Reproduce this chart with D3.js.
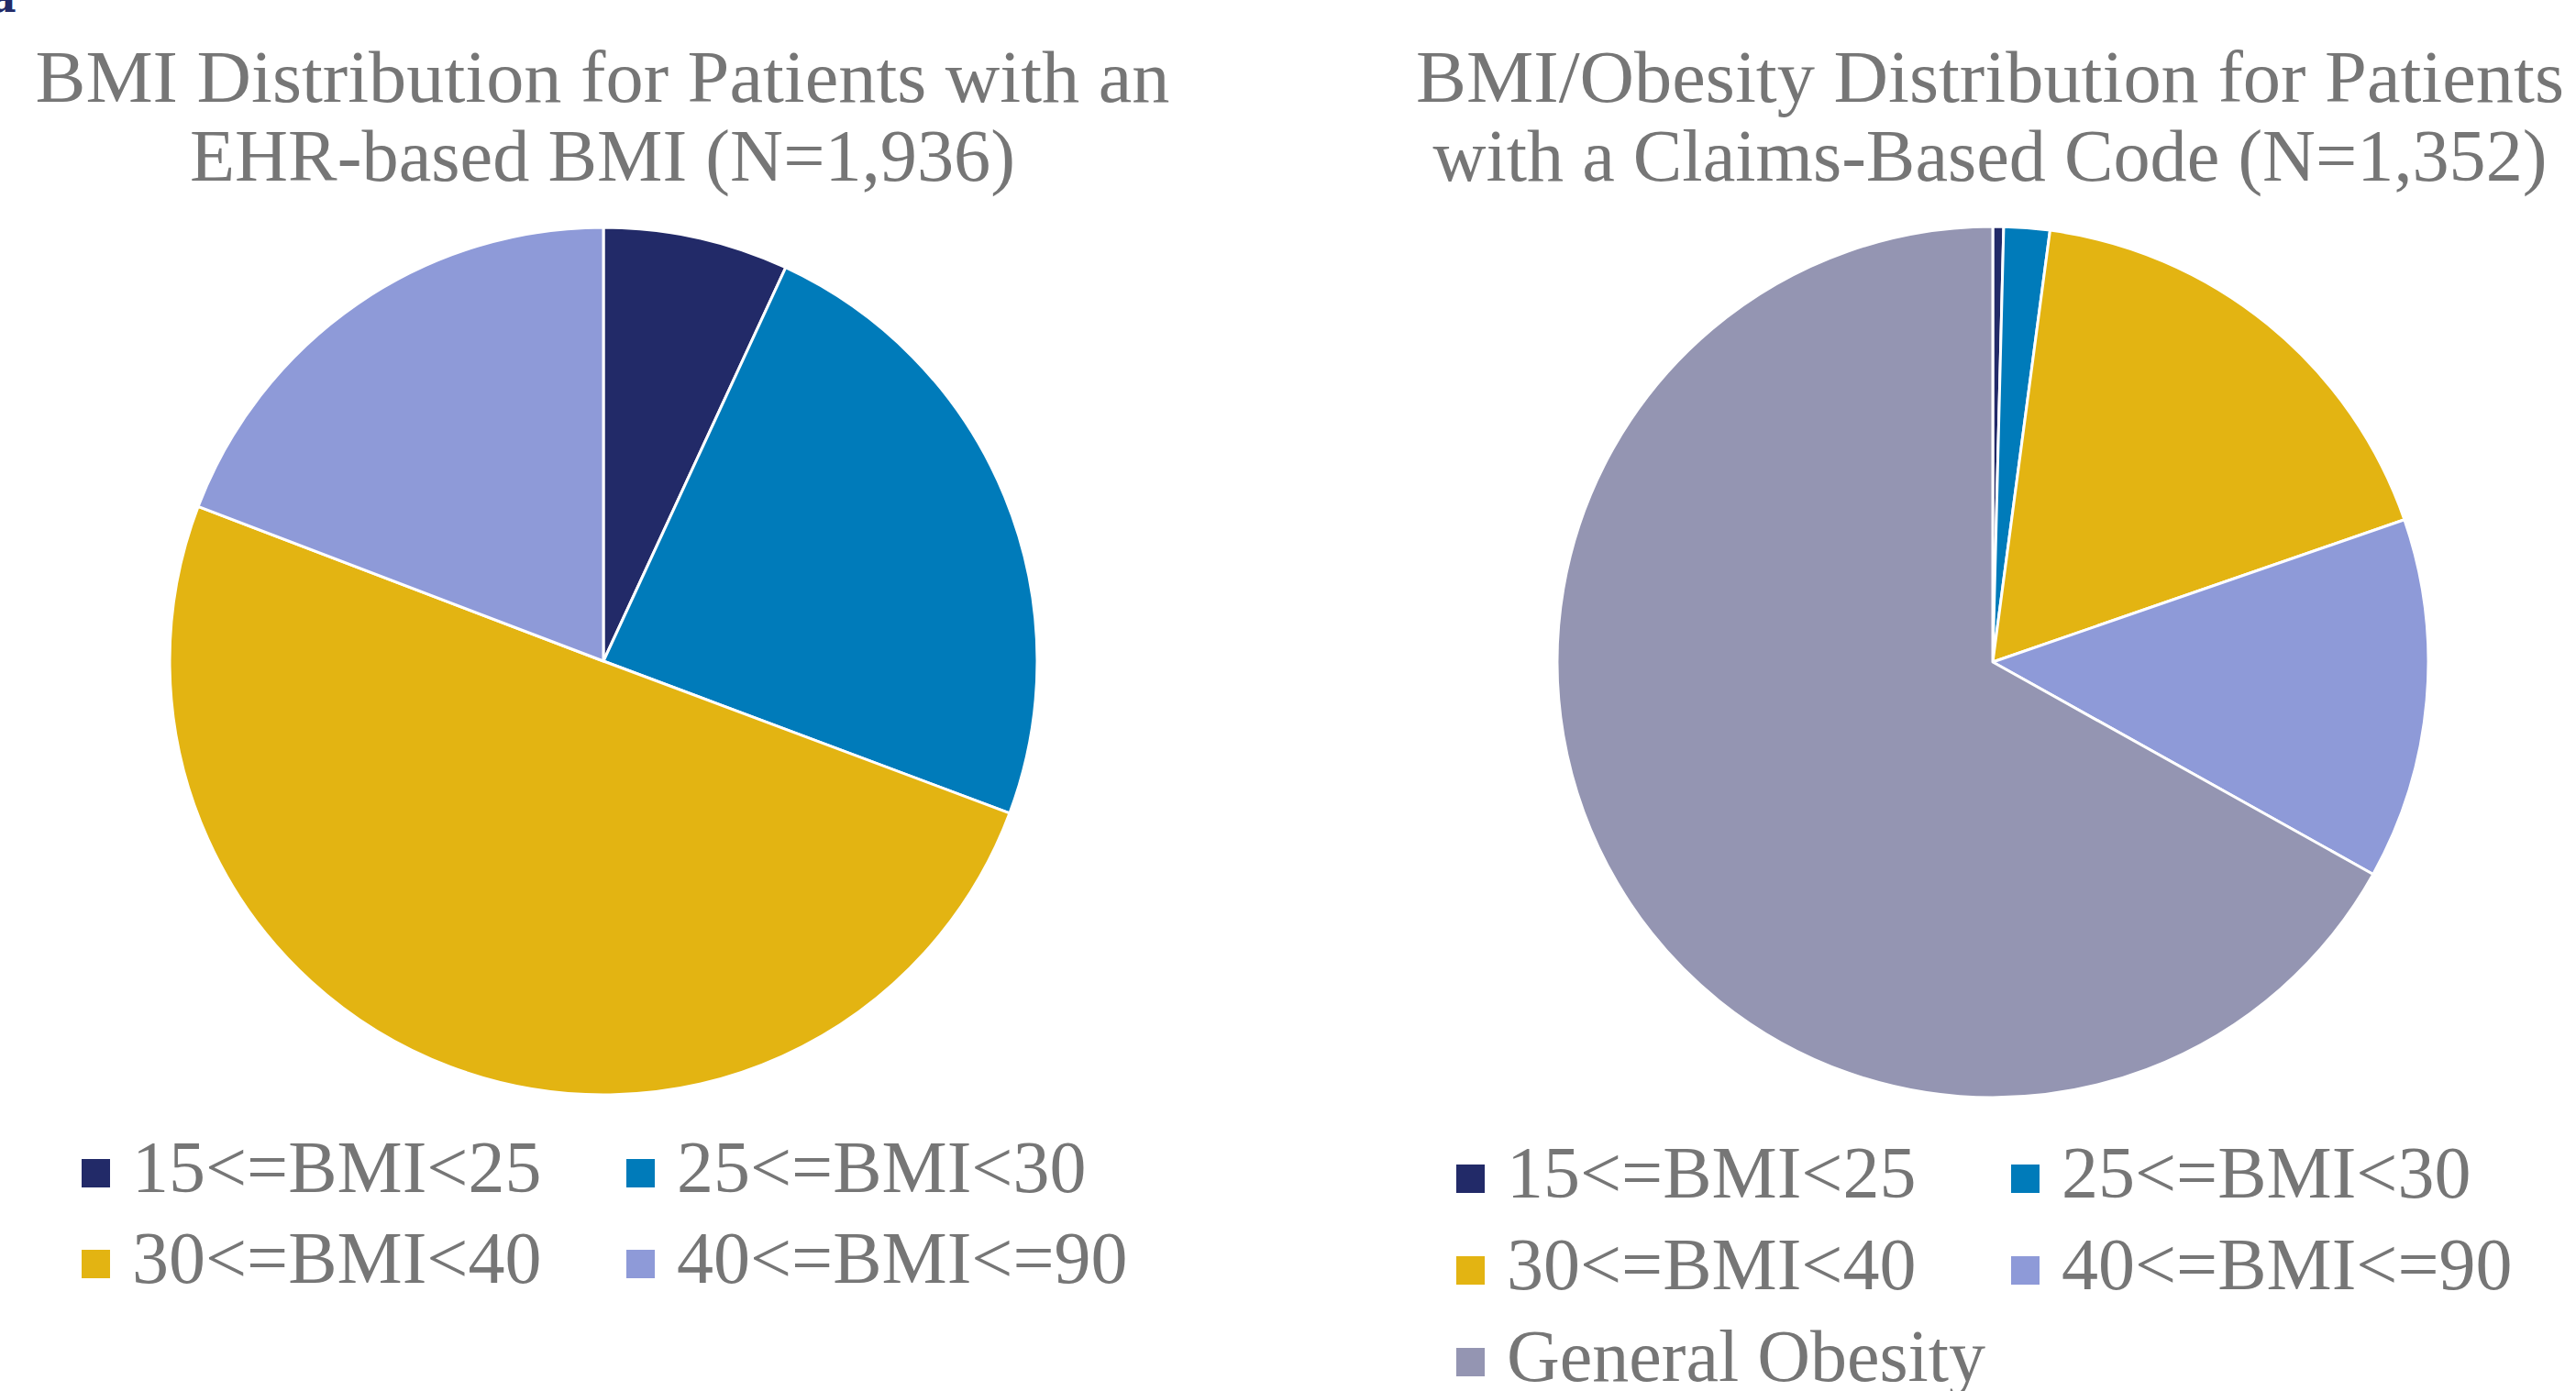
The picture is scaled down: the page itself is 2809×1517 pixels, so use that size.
<!DOCTYPE html>
<html>
<head>
<meta charset="utf-8">
<script src="https://cdn.jsdelivr.net/npm/d3@7"></script>
<style>
  html, body { margin: 0; padding: 0; background: #ffffff; }
  svg { display: block; }
  text { font-family: "Liberation Serif", "DejaVu Serif", serif; fill: #767676; }
</style>
</head>
<body>
<script>
// BMI categories (legend order) and the share of patients in each, in percent
const categories = ["15<=BMI<25", "25<=BMI<30", "30<=BMI<40", "40<=BMI<=90", "General Obesity"];
const ehrShares = [6.9, 23.8, 50.1, 19.2];
const claimsShares = [0.4, 1.7, 17.6, 13.4, 66.9];
const ehrTitle = ["BMI Distribution for Patients with an", "EHR-based BMI (N=1,936)"];
const claimsTitle = ["BMI/Obesity Distribution for Patients", "with a Claims-Based Code (N=1,352)"];
const palette = ["#222A68", "#007BBA", "#E3B412", "#8E9AD8", "#9495B2"];

const W = 2809, H = 1517;
const svg = d3.select("body").append("svg").attr("width", W).attr("height", H);

const color = d3.scaleOrdinal().domain(categories).range(palette);

// small panel marker clipped by the top-left corner
svg.append("text")
  .attr("x", -11).attr("y", 13)
  .style("font-family", "DejaVu Serif")
  .style("font-weight", "bold")
  .style("font-size", "44px")
  .style("fill", "#222A68")
  .text("a");

const panels = [
  { shares: ehrShares, title: ehrTitle, cx: 658, cy: 721, r: 473,
    titleX: 657, titleLens: [1237, 900],
    legendX: [89, 683], legendTop: 1264, legendStep: 99 },
  { shares: claimsShares, title: claimsTitle, cx: 2173, cy: 722, r: 475,
    titleX: 2170, titleLens: [1252, 1215],
    legendX: [1588, 2193], legendTop: 1270, legendStep: 100 }
];

const pie = d3.pie().sort(null).value(d => d.value);

panels.forEach(p => {
  const data = p.shares.map((v, i) => ({ key: categories[i], value: v }));

  // title, two centred lines
  p.title.forEach((line, i) => {
    svg.append("text")
      .attr("x", p.titleX)
      .attr("y", 111 + i * 86)
      .attr("text-anchor", "middle")
      .attr("textLength", p.titleLens[i])
      .attr("lengthAdjust", "spacingAndGlyphs")
      .style("font-size", "80px")
      .text(line);
  });

  // slices
  const arc = d3.arc().innerRadius(0).outerRadius(p.r);
  svg.append("g")
    .attr("transform", `translate(${p.cx},${p.cy})`)
    .selectAll("path")
    .data(pie(data))
    .join("path")
    .attr("d", arc)
    .attr("fill", d => color(d.data.key))
    .attr("stroke", "#ffffff")
    .attr("stroke-width", 3)
    .attr("stroke-linejoin", "round");

  // legend, two columns
  const lg = svg.append("g");
  data.forEach((d, i) => {
    const col = i % 2, row = Math.floor(i / 2);
    const x = p.legendX[col];
    const y = p.legendTop + row * p.legendStep;
    lg.append("rect")
      .attr("x", x).attr("y", y)
      .attr("width", 31).attr("height", 31)
      .attr("fill", color(d.key));
    lg.append("text")
      .attr("x", x + 55)
      .attr("y", y + 36)
      .style("font-size", "80px")
      .text(d.key);
  });
});
</script>
</body>
</html>
